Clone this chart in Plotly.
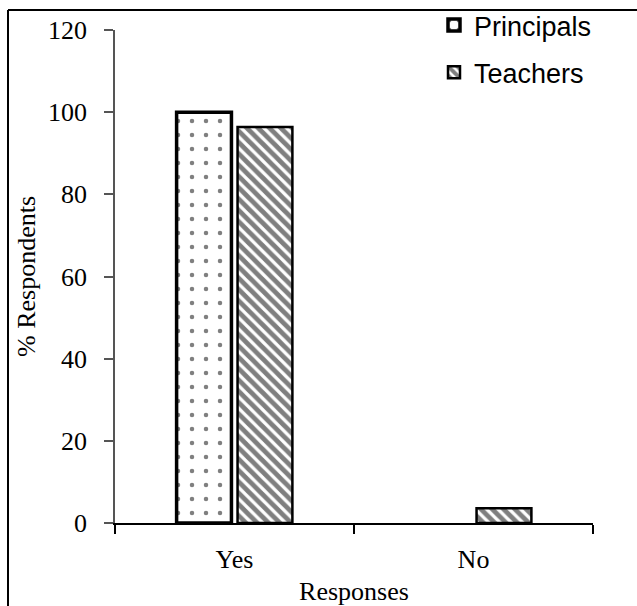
import plotly.graph_objects as go

categories = ["Yes", "No"]
principals = [100, 0]
teachers = [96.4, 3.6]
y_ticks = [0, 20, 40, 60, 80, 100, 120]

L, R, T, B = 115, 44, 30, 83
W, H = 637, 606
pw, ph = W - L - R, H - T - B

def px2x(px):
    return (px - L) / pw

def py2y(py):
    return (H - B - py) / ph

fig = go.Figure()
fig.add_trace(go.Bar(
    x=categories, y=principals, name="Principals", legendgroup="p",
    marker=dict(color="white", line=dict(color="black", width=[3.5, 0]),
                pattern=dict(shape=".", fgcolor="black", bgcolor="white", size=14, solidity=0.08)),
))
fig.add_trace(go.Bar(
    x=categories, y=teachers, name="Teachers", legendgroup="t",
    marker=dict(color="white", line=dict(color="black", width=2.5),
                pattern=dict(shape="\\", fgcolor="black", bgcolor="white", size=8, solidity=0.6)),
))

serif = "Liberation Serif, Times New Roman"
fig.update_layout(
    width=W, height=H,
    margin=dict(l=L, r=R, t=T, b=B, autoexpand=False),
    paper_bgcolor="white", plot_bgcolor="white",
    barmode="group", bargap=0.49, bargroupgap=0.1,
    showlegend=True,
    legend=dict(xref="container", yref="container", x=434 / W, y=1 - 1 / H,
                xanchor="left", yanchor="top",
                font=dict(family="Liberation Sans, Arial", size=27, color="black"),
                tracegroupgap=9, bgcolor="rgba(0,0,0,0)"),
    font=dict(family=serif, size=26, color="black"),
)
fig.update_xaxes(
    showline=True, linecolor="black", linewidth=2, automargin=False,
    ticks="outside", tickson="boundaries", ticklen=9, tickwidth=2, tickcolor="black",
    tickfont=dict(family=serif, size=26), ticklabelstandoff=12,
    title=dict(text="Responses", font=dict(family=serif, size=26), standoff=10),
    showgrid=False,
)
fig.update_yaxes(
    range=[0, 120], tickvals=y_ticks, automargin=False,
    showline=True, linecolor="#555555", linewidth=1.5,
    ticks="outside", ticklen=9, tickwidth=1.5, tickcolor="#555555",
    tickfont=dict(family=serif, size=26), ticklabelstandoff=12,
    title=dict(text="% Respondents", font=dict(family=serif, size=26), standoff=5),
    showgrid=False, zeroline=False,
)

# outer frame (top and left edges visible)
fig.add_shape(type="line", xref="paper", yref="paper",
              x0=px2x(8), y0=py2y(10), x1=px2x(640), y1=py2y(10),
              line=dict(color="black", width=2))
fig.add_shape(type="line", xref="paper", yref="paper",
              x0=px2x(8), y0=py2y(10), x1=px2x(8), y1=py2y(610),
              line=dict(color="black", width=2))

fig.write_html("out.html", config={"displayModeBar": False},
               post_script="document.body.style.margin='0px';document.body.style.overflow='hidden';")
